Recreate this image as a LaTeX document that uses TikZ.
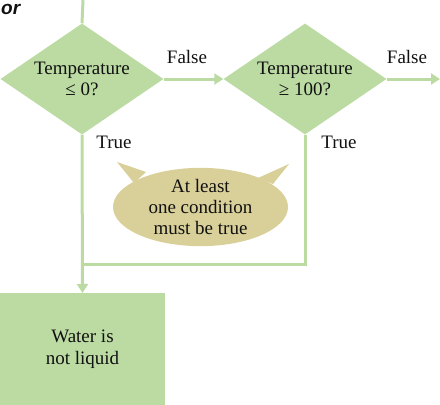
\documentclass[tikz,border=0pt]{standalone}
\usepackage{fontspec}
\setmainfont{Liberation Serif}
\newfontfamily\orfont{Liberation Sans}
\usetikzlibrary{shapes.geometric,arrows.meta}
\definecolor{flowgreen}{HTML}{BBDBA3}
\definecolor{bubbletan}{HTML}{D9CF98}
\definecolor{inktext}{HTML}{111111}
\tikzset{
  decision/.style={diamond,fill=flowgreen,draw=none,aspect=1.47,minimum width=163pt,minimum height=111pt,inner sep=0pt,align=center,font=\fontsize{19}{21}\selectfont,text=inktext},
  flowline/.style={draw=flowgreen,line width=3pt},
  flowarrow/.style={flowline,-{Triangle[length=9pt,width=11pt]}},
  branchlabel/.style={font=\fontsize{19}{21}\selectfont,text=inktext,inner sep=0pt},
  resultbox/.style={rectangle,fill=flowgreen,draw=none,minimum width=165pt,minimum height=112pt,inner sep=0pt,align=center,font=\fontsize{19}{22}\selectfont,text=inktext},
  bubble/.style={ellipse,fill=bubbletan,draw=none,minimum width=175pt,minimum height=78pt,inner sep=0pt,align=center,font=\fontsize{19}{21}\selectfont,text=inktext}
}
\begin{document}
\begin{tikzpicture}[x=1pt,y=-1pt]
\useasboundingbox (0,0) rectangle (440,405);
% "or"
\node[anchor=base west,inner sep=0pt,font=\orfont\bfseries\itshape\fontsize{19}{19}\selectfont,text=inktext] (orlabel) at (1,14) {or};
% nodes
\coordinate (topin) at (83,0);
\node[decision] (d1) at (82,79) {Temperature\\≤ 0?};
\node[decision] (d2) at (305,79) {Temperature\\≥ 100?};
\coordinate (outright) at (440,79);
\node[resultbox,anchor=north] (box) at (82.5,293) {Water is\\not liquid};
\coordinate (merge) at (83,264);
% speech bubble
\node[bubble] (note) at (200.5,207) {At least\\one condition\\must be true};
\fill[bubbletan] (117,162) -- (146,172) -- (134,183) -- cycle;
\fill[bubbletan] (289,164) -- (258,178) -- (273,184) -- cycle;
% connectors
\draw[flowline] (topin) -- (d1.north);
\draw[flowarrow] (d1.east) -- (d2.west);
\draw[flowarrow] (d2.east) -- (outright);
\draw[flowarrow] (d1.south) -- (box.north);
\draw[flowline] (d2.south) |- (merge);
% labels
\node[branchlabel] (f1) at (187,57) {False};
\node[branchlabel] (f2) at (407,57) {False};
\node[branchlabel] (t1) at (114,142) {True};
\node[branchlabel] (t2) at (339,142) {True};
\end{tikzpicture}
\end{document}
